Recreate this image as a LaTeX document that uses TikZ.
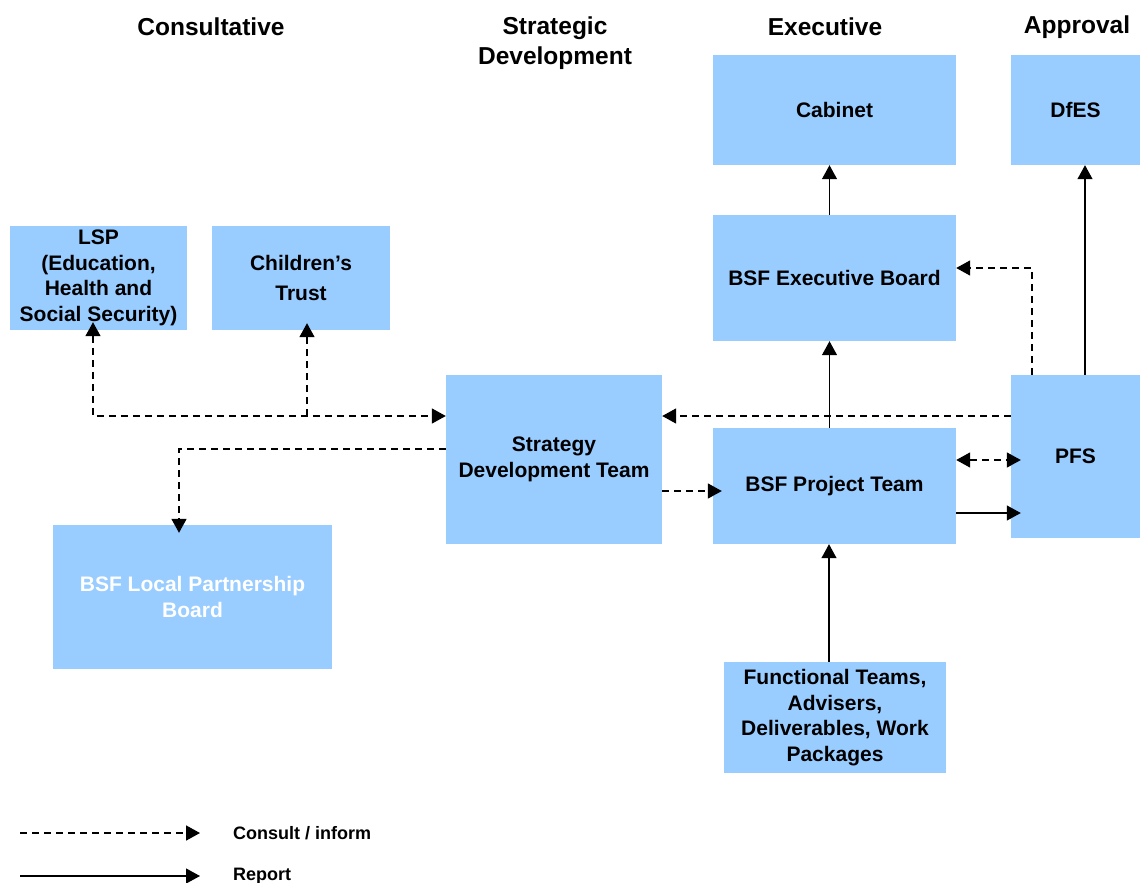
\documentclass[tikz,border=0pt]{standalone}
\usepackage{fontspec}
\setmainfont{Liberation Sans}
\usepackage{tikz}
\usetikzlibrary{positioning,arrows.meta}
\definecolor{boxcolor}{RGB}{153,204,255}

\begin{document}
\begin{tikzpicture}[x=1pt, y=-1pt,
  box/.style     = {rectangle, fill=boxcolor, align=center, inner sep=0pt,
                    font=\fontsize{21}{25.5}\selectfont\bfseries},
  head/.style    = {align=center, font=\fontsize{24.5}{30}\selectfont\bfseries},
  tip/.style     = {-{Triangle[length=14pt,width=15pt]}},
  consult/.style = {tip, dash pattern=on 7pt off 5pt, line width=1.6pt},
  report/.style  = {tip, line width=1.2pt},
  legend/.style  = {anchor=west, inner sep=0pt, font=\fontsize{18}{20}\selectfont\bfseries}
]
\useasboundingbox (0,0) rectangle (1140,883);

% column headings
\node[head] (h-cons) at (211,27)  {Consultative};
\node[head] (h-strat) at (555,43) {Strategic\\Development};
\node[head] (h-exec) at (825,27)  {Executive};
\node[head] (h-appr) at (1077,27) {Approval};

% boxes
\node[box, minimum width=243, minimum height=110] (cabinet)   at (834.5,110)   {Cabinet};
\node[box, minimum width=129, minimum height=110] (dfes)      at (1075.5,110)  {DfES};
\node[box, minimum width=243, minimum height=126] (execboard) at (834.5,278)   {BSF Executive Board};
\node[box, minimum width=177, minimum height=104] (lsp)       at (98.5,278)
      {LSP\\(Education,\\Health and\\Social Security)};
\node[box, minimum width=178, minimum height=104] (ctrust)    at (301,278)     {Children’s\\[5pt]Trust};
\node[box, minimum width=216, minimum height=169] (sdt)       at (554,459.5)   {Strategy\\Development Team};
\node[box, minimum width=243, minimum height=116] (projteam)  at (834.5,486)   {BSF Project Team};
\node[box, minimum width=129, minimum height=163] (pfs)       at (1075.5,456.5) {PFS};
\node[box, minimum width=279, minimum height=144, text=white] (lpb) at (192.5,597)
      {BSF Local Partnership\\Board};
\node[box, minimum width=222, minimum height=111] (functional) at (835,717.5)
      {Functional Teams,\\Advisers,\\Deliverables, Work\\Packages};

% report lines
\draw[report] ([xshift=-5pt]projteam.north) -- ([xshift=-5pt]execboard.south);
\draw[report] ([xshift=-5pt]execboard.north) -- ([xshift=-5pt]cabinet.south);
\draw[report] ([xshift=9.5pt]pfs.north) -- ([xshift=9.5pt]dfes.south);
\draw[report] ([xshift=-6pt]functional.north) -- ([xshift=-6pt]functional.north |- projteam.south);
\draw[report, shorten >=-10pt] ([yshift=-27pt]projteam.east) -- ([yshift=-27pt]projteam.east -| pfs.west);

% consult / inform lines
\coordinate (trunk)  at ([yshift=43.5pt]sdt.west);
\coordinate (ctfoot) at ([xshift=6pt]ctrust.south);
\draw[consult, {Triangle[length=14pt,width=15pt]}-{Triangle[length=14pt,width=15pt]}, shorten <=-8pt]
  ([xshift=-5.5pt]lsp.south) |- (trunk);
\draw[consult, shorten >=-7pt] (ctfoot |- trunk) -- (ctfoot);
\draw[consult, shorten >=-8pt] ([yshift=10.5pt]sdt.west) -| ([xshift=-13.5pt]lpb.north);
\draw[consult, shorten >=-9pt] ([yshift=-31.5pt]sdt.east) -- ([yshift=-31.5pt]sdt.east -| projteam.west);
\draw[consult] ([yshift=40.5pt]pfs.west) -- ([yshift=40.5pt]pfs.west -| sdt.east);
\draw[consult] ([xshift=-43.5pt]pfs.north) |- ([yshift=10pt]execboard.east);
\draw[consult, {Triangle[length=14pt,width=15pt]}-{Triangle[length=14pt,width=15pt]}, shorten >=-10pt]
  ([yshift=26pt]projteam.east) -- ([yshift=26pt]projteam.east -| pfs.west);

% legend
\coordinate (c-from) at (20,833);
\coordinate (c-to)   at (200,833);
\coordinate (r-from) at (20,876);
\coordinate (r-to)   at (200,876);
\draw[consult] (c-from) -- (c-to);
\draw[report]  (r-from) -- (r-to);
\node[legend] (c-text) at (233,833) {Consult / inform};
\node[legend] (r-text) at (233,876) {Report};
\end{tikzpicture}
\end{document}
